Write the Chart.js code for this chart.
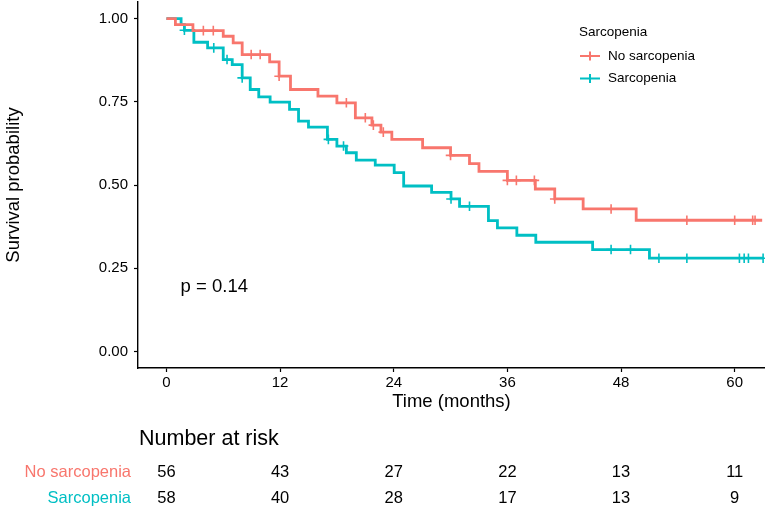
<!DOCTYPE html>
<html>
<head>
<meta charset="utf-8">
<script src="https://cdn.jsdelivr.net/npm/chart.js@4.4.1/dist/chart.umd.min.js"></script>
<style>
  html, body { margin: 0; padding: 0; background: #fff; }
  #km { display: block; }
</style>
</head>
<body>
<canvas id="km" width="765" height="510"></canvas>
<script>
// Kaplan-Meier data
const xTicks = [0, 12, 24, 36, 48, 60];
const yTicks = [0, 0.25, 0.5, 0.75, 1];
const groupNames = ['No sarcopenia', 'Sarcopenia'];
const groupColors = ['#F8766D', '#00BFC4'];

const noSarcTime = [0, 0.95, 2.8, 6.0, 7.05, 8.0, 10.9, 11.9, 13.1, 16.0, 18.0, 19.95, 21.7, 22.65, 23.8, 27.05, 30.0, 32.0, 33.0, 36.0, 38.95, 41.0, 44.0, 49.6, 62.9];
const noSarcSurv = [1, 0.982, 0.964, 0.947, 0.927, 0.892, 0.870, 0.827, 0.787, 0.767, 0.747, 0.702, 0.680, 0.659, 0.637, 0.612, 0.589, 0.564, 0.541, 0.514, 0.488, 0.458, 0.428, 0.394, 0.394];
const noSarcCensor = [3.9, 4.95, 8.95, 9.9, 11.9, 19.0, 21.0, 21.85, 22.9, 30.0, 36.0, 36.95, 38.85, 41.0, 46.95, 54.95, 60.0, 61.9, 62.15];

const sarcTime = [0, 1.55, 1.9, 2.9, 4.35, 6.0, 6.95, 8.0, 8.85, 9.75, 10.95, 13.0, 13.95, 15.0, 17.0, 18.0, 19.0, 20.05, 22.05, 24.05, 25.05, 28.0, 30.05, 30.95, 34.0, 34.95, 37.0, 39.0, 45.0, 51.0, 63.0];
const sarcSurv = [1, 0.982, 0.965, 0.929, 0.912, 0.877, 0.862, 0.822, 0.787, 0.765, 0.749, 0.727, 0.692, 0.674, 0.637, 0.617, 0.597, 0.575, 0.560, 0.537, 0.497, 0.478, 0.458, 0.436, 0.393, 0.371, 0.349, 0.328, 0.306, 0.280, 0.280];
const sarcCensor = [1.9, 5.0, 6.4, 8.0, 17.1, 18.7, 30.05, 32.0, 46.95, 49.0, 52.0, 54.95, 60.5, 61.0, 61.45, 63.0];

const noSarcRisk = [56, 43, 27, 22, 13, 11];
const sarcRisk = [58, 40, 28, 17, 13, 9];
const pValueText = 'p = 0.14';

const FONT = "'Liberation Sans', Arial, Helvetica, sans-serif";

// survival value at time t (step function lookup)
function survAt(times, surv, t) {
    let s = surv[0];
    for (let i = 0; i < times.length; i++) {
        if (times[i] <= t) s = surv[i];
    }
    return s;
}

function stepPoints(times, surv) {
    return times.map((t, i) => ({ x: t, y: surv[i] }));
}

function censorPoints(times, surv, cens) {
    return cens.map(t => ({ x: t, y: survAt(times, surv, t) }));
}

// keep the panel exactly where the layout padding puts it
function noScalePadding(scale) {
    scale.paddingTop = 0;
    scale.paddingBottom = 0;
    scale.paddingLeft = 0;
    scale.paddingRight = 0;
}

// legend, p-value and number-at-risk table
const extrasPlugin = {
    id: 'kmExtras',
    afterDraw(chart) {
        const ctx = chart.ctx;
        const xs = chart.scales.x;
        const ys = chart.scales.y;
        ctx.save();

        // p value
        ctx.fillStyle = '#000';
        ctx.font = '18.5px ' + FONT;
        ctx.textAlign = 'left';
        ctx.textBaseline = 'alphabetic';
        ctx.fillText(pValueText, xs.getPixelForValue(1.5), ys.getPixelForValue(0.177));

        // legend
        ctx.font = '13.5px ' + FONT;
        ctx.fillText('Sarcopenia', 579, 36);
        groupNames.forEach((name, i) => {
            const cy = 56 + i * 22.5;
            ctx.strokeStyle = groupColors[i];
            ctx.lineWidth = 2;
            ctx.beginPath();
            ctx.moveTo(580, cy);
            ctx.lineTo(600, cy);
            ctx.moveTo(590, cy - 4.5);
            ctx.lineTo(590, cy + 4.5);
            ctx.stroke();
            ctx.fillStyle = '#000';
            ctx.textBaseline = 'middle';
            ctx.fillText(name, 608, cy);
        });

        // number at risk
        ctx.textBaseline = 'middle';
        ctx.font = '21.5px ' + FONT;
        ctx.fillStyle = '#000';
        ctx.fillText('Number at risk', 139, 439);

        const rows = [noSarcRisk, sarcRisk];
        rows.forEach((row, r) => {
            const cy = 472 + r * 26;
            ctx.font = '16.5px ' + FONT;
            ctx.textAlign = 'right';
            ctx.fillStyle = groupColors[r];
            ctx.fillText(groupNames[r], 131, cy);
            ctx.textAlign = 'center';
            ctx.fillStyle = '#000';
            row.forEach((n, i) => {
                ctx.fillText(String(n), xs.getPixelForValue(xTicks[i]), cy);
            });
        });
        ctx.restore();
    }
};

Chart.defaults.font.family = FONT;
Chart.defaults.color = '#000';

new Chart(document.getElementById('km').getContext('2d'), {
    type: 'line',
    data: {
        datasets: [{
            label: groupNames[0],
            data: stepPoints(noSarcTime, noSarcSurv),
            borderColor: groupColors[0],
            borderWidth: 2.8,
            stepped: 'before',
            pointRadius: 0,
            fill: false
        }, {
            label: groupNames[1],
            data: stepPoints(sarcTime, sarcSurv),
            borderColor: groupColors[1],
            borderWidth: 2.8,
            stepped: 'before',
            pointRadius: 0,
            fill: false
        }, {
            type: 'scatter',
            label: groupNames[0] + ' censored',
            data: censorPoints(noSarcTime, noSarcSurv, noSarcCensor),
            borderColor: groupColors[0],
            pointStyle: 'cross',
            pointRadius: 4.8,
            pointBorderWidth: 1.6
        }, {
            type: 'scatter',
            label: groupNames[1] + ' censored',
            data: censorPoints(sarcTime, sarcSurv, sarcCensor),
            borderColor: groupColors[1],
            pointStyle: 'cross',
            pointRadius: 4.8,
            pointBorderWidth: 1.6
        }]
    },
    options: {
        responsive: false,
        animation: false,
        layout: { autoPadding: false, padding: { top: 2, left: 0, right: 0, bottom: 95 } },
        plugins: {
            legend: { display: false },
            tooltip: { enabled: false }
        },
        scales: {
            x: {
                type: 'linear',
                min: -3,
                max: 63.2,
                afterBuildTicks: scale => { scale.ticks = xTicks.map(v => ({ value: v })); },
                afterFit: scale => { scale.height = 47; noScalePadding(scale); },
                ticks: { font: { size: 15 }, padding: 2, maxRotation: 0, autoSkip: false, color: '#000' },
                grid: { display: true, drawOnChartArea: false, drawTicks: true, tickLength: 4, color: '#000', tickWidth: 1.2 },
                border: { display: true, color: '#000', width: 1.4 },
                title: { display: true, text: 'Time (months)', font: { size: 18.5 }, padding: { top: 0, bottom: 2 }, color: '#000' }
            },
            y: {
                type: 'linear',
                min: -0.05,
                max: 1.05,
                afterBuildTicks: scale => { scale.ticks = yTicks.map(v => ({ value: v })); },
                afterFit: scale => { scale.width = 138; noScalePadding(scale); },
                ticks: { font: { size: 15 }, padding: 6, color: '#000', callback: v => v.toFixed(2) },
                grid: { display: true, drawOnChartArea: false, drawTicks: true, tickLength: 4, color: '#000', tickWidth: 1.2 },
                border: { display: true, color: '#000', width: 1.4 },
                title: { display: true, text: 'Survival probability', font: { size: 18.5 }, padding: { top: 3, bottom: 0 }, color: '#000' }
            }
        }
    },
    plugins: [extrasPlugin]
});
</script>
</body>
</html>
